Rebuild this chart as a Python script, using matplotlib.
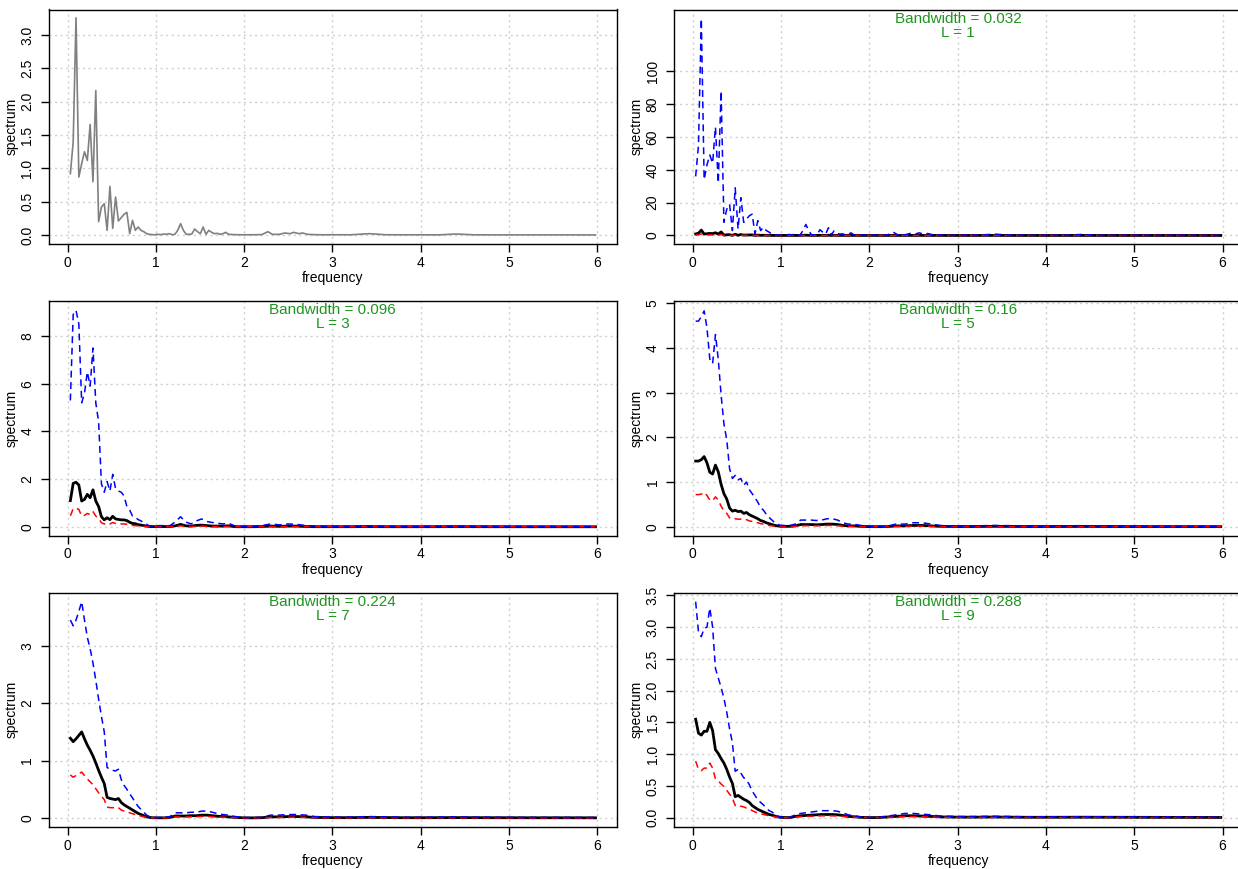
import numpy as np
import matplotlib
matplotlib.use('Agg')
import matplotlib.pyplot as plt

plt.rcParams['font.family'] = ['Liberation Sans', 'DejaVu Sans']

# raw periodogram grid (dense part every 0.032, sparse tail)
raw_freq = [0.032, 0.064, 0.096, 0.128, 0.16, 0.192, 0.224, 0.256, 0.288, 0.32,
            0.352, 0.384, 0.416, 0.448, 0.48, 0.512, 0.544, 0.576, 0.608, 0.64,
            0.672, 0.704, 0.736, 0.768, 0.8, 0.832, 0.864, 0.896, 0.928, 0.96,
            0.992, 1.024, 1.056, 1.088, 1.12, 1.152, 1.184, 1.216, 1.248, 1.28,
            1.312, 1.344, 1.376, 1.408, 1.44, 1.472, 1.504, 1.536, 1.568, 1.6,
            1.632, 1.664, 1.696, 1.728, 1.76, 1.792, 1.824,
            1.9, 2.0, 2.1, 2.2, 2.27, 2.32, 2.4, 2.46, 2.52, 2.56,
            2.62, 2.66, 2.72, 2.8, 2.9, 3.0, 3.2, 3.42, 3.6, 3.8,
            4.0, 4.2, 4.4, 4.6, 4.8, 5.0, 5.3, 5.6, 5.98]

raw_spec = [0.92, 1.40, 3.26, 0.87, 1.07, 1.25, 1.12, 1.66, 0.80, 2.17,
            0.20, 0.42, 0.47, 0.07, 0.73, 0.10, 0.57, 0.21, 0.26, 0.31,
            0.34, 0.02, 0.22, 0.07, 0.12, 0.07, 0.05, 0.02, 0.01, 0.005,
            0.004, 0.01, 0.005, 0.015, 0.01, 0.02, 0.005, 0.01, 0.07, 0.17,
            0.07, 0.01, 0.01, 0.015, 0.09, 0.05, 0.02, 0.12, 0.01, 0.07,
            0.04, 0.02, 0.025, 0.01, 0.02, 0.04, 0.01,
            0.005, 0.003, 0.004, 0.006, 0.05, 0.01, 0.01, 0.03, 0.02, 0.04,
            0.02, 0.03, 0.01, 0.005, 0.003, 0.004, 0.003, 0.02, 0.004, 0.003,
            0.003, 0.002, 0.015, 0.003, 0.002, 0.002, 0.002, 0.002, 0.001]

l1_upper = [36, 55, 132, 34, 43, 49, 44, 66, 32, 88,
            8, 16, 19, 3, 29, 4, 23, 8, 10, 12,
            13, 1, 9, 3, 5, 3, 2, 0.8, 0.4, 0.2,
            0.2, 0.4, 0.2, 0.6, 0.4, 0.8, 0.2, 0.4, 3, 6.7,
            3, 0.4, 0.4, 0.6, 3.5, 2, 0.8, 4.7, 0.4, 2.8,
            1.6, 0.8, 1, 0.4, 0.8, 1.6, 0.4,
            0.2, 0.1, 0.2, 0.2, 2, 0.4, 0.4, 1.2, 0.8, 1.6,
            0.8, 1.2, 0.4, 0.2, 0.1, 0.2, 0.1, 0.8, 0.2, 0.1,
            0.1, 0.1, 0.6, 0.1, 0.1, 0.1, 0.1, 0.1, 0.05]

l1_lower = [0.25, 0.38, 0.88, 0.24, 0.29, 0.34, 0.30, 0.45, 0.22, 0.59,
            0.05, 0.11, 0.13, 0.02, 0.2, 0.03, 0.15, 0.06, 0.07, 0.08,
            0.09, 0.01, 0.06, 0.02, 0.03, 0.02, 0.01, 0.005, 0.003, 0.001,
            0.001, 0.003, 0.001, 0.004, 0.003, 0.005, 0.001, 0.003, 0.02, 0.05,
            0.02, 0.003, 0.003, 0.004, 0.02, 0.01, 0.005, 0.03, 0.003, 0.02,
            0.01, 0.005, 0.007, 0.003, 0.005, 0.01, 0.003,
            0.001, 0.001, 0.001, 0.002, 0.01, 0.003, 0.003, 0.008, 0.005, 0.01,
            0.005, 0.008, 0.003, 0.001, 0.001, 0.001, 0.001, 0.005, 0.001, 0.001,
            0.001, 0.001, 0.004, 0.001, 0.001, 0.001, 0.001, 0.001, 0.0003]

# grid for the smoothed estimates
smooth_freq = [0.032, 0.064, 0.096, 0.128, 0.16, 0.192, 0.224, 0.256, 0.288, 0.32,
               0.352, 0.384, 0.416, 0.448, 0.48, 0.512, 0.544, 0.576, 0.608, 0.64,
               0.672, 0.704, 0.736, 0.768, 0.8, 0.832, 0.864, 0.896, 0.928, 0.96,
               0.992,
               1.04, 1.1, 1.16, 1.22, 1.28, 1.34, 1.4, 1.46, 1.52, 1.58,
               1.64, 1.7, 1.76, 1.82, 1.9, 2.0, 2.1, 2.2, 2.3, 2.4,
               2.5, 2.6, 2.7, 2.8, 3.0, 3.2, 3.4, 3.6, 3.8, 4.0,
               4.4, 4.8, 5.2, 5.6, 5.98]

l3_spec = [1.10, 1.82, 1.87, 1.75, 1.08, 1.15, 1.36, 1.22, 1.55, 1.08,
           0.85, 0.42, 0.29, 0.38, 0.30, 0.44, 0.33, 0.31, 0.29, 0.29,
           0.26, 0.19, 0.14, 0.13, 0.09, 0.07, 0.05, 0.03, 0.01, 0.01,
           0.005,
           0.01, 0.01, 0.01, 0.04, 0.10, 0.04, 0.03, 0.06, 0.07, 0.05,
           0.03, 0.03, 0.03, 0.04, 0.005, 0.003, 0.004, 0.01, 0.03, 0.02,
           0.03, 0.03, 0.01, 0.005, 0.005, 0.005, 0.01, 0.005, 0.004, 0.004,
           0.008, 0.004, 0.003, 0.003, 0.002]
l3_upper = [5.3, 8.9, 9.08, 8.5, 5.2, 5.6, 6.5, 5.9, 7.5, 5.2,
            4.4, 1.8, 1.45, 1.9, 1.5, 2.2, 1.6, 1.5, 1.45, 1.3,
            0.85, 0.7, 0.45, 0.4, 0.3, 0.25, 0.15, 0.1, 0.04, 0.03,
            0.02,
            0.05, 0.05, 0.05, 0.2, 0.42, 0.2, 0.12, 0.25, 0.33, 0.22,
            0.18, 0.15, 0.12, 0.15, 0.03, 0.02, 0.02, 0.05, 0.12, 0.08,
            0.12, 0.1, 0.05, 0.03, 0.02, 0.02, 0.04, 0.02, 0.02, 0.02,
            0.03, 0.02, 0.01, 0.01, 0.01]
l3_lower = [0.46, 0.76, 0.78, 0.73, 0.45, 0.48, 0.56, 0.51, 0.64, 0.45,
            0.35, 0.17, 0.12, 0.16, 0.12, 0.18, 0.14, 0.13, 0.12, 0.12,
            0.11, 0.08, 0.06, 0.05, 0.04, 0.03, 0.02, 0.01, 0.004, 0.004,
            0.002,
            0.004, 0.004, 0.004, 0.017, 0.04, 0.017, 0.012, 0.025, 0.03, 0.02,
            0.012, 0.012, 0.012, 0.017, 0.002, 0.001, 0.002, 0.004, 0.012, 0.008,
            0.012, 0.012, 0.004, 0.002, 0.002, 0.002, 0.004, 0.002, 0.002, 0.002,
            0.003, 0.002, 0.001, 0.001, 0.001]

l5_spec = [1.47, 1.47, 1.50, 1.57, 1.43, 1.22, 1.18, 1.38, 1.23, 0.95,
           0.74, 0.62, 0.42, 0.35, 0.37, 0.34, 0.35, 0.30, 0.32, 0.27,
           0.24, 0.21, 0.18, 0.14, 0.12, 0.09, 0.07, 0.05, 0.03, 0.02,
           0.01,
           0.01, 0.01, 0.02, 0.05, 0.05, 0.05, 0.045, 0.05, 0.06, 0.06,
           0.05, 0.03, 0.02, 0.02, 0.01, 0.003, 0.003, 0.004, 0.02, 0.02,
           0.03, 0.03, 0.02, 0.01, 0.005, 0.006, 0.01, 0.008, 0.005, 0.005,
           0.008, 0.005, 0.004, 0.004, 0.003]
l5_upper = [4.6, 4.6, 4.7, 4.83, 4.45, 3.75, 3.65, 4.3, 3.75, 2.95,
            2.3, 1.95, 1.3, 1.08, 1.15, 1.05, 1.08, 0.93, 1.0, 0.83,
            0.74, 0.65, 0.55, 0.43, 0.37, 0.28, 0.21, 0.15, 0.09, 0.06,
            0.03,
            0.03, 0.03, 0.06, 0.15, 0.15, 0.15, 0.14, 0.15, 0.18, 0.18,
            0.15, 0.09, 0.06, 0.06, 0.03, 0.01, 0.01, 0.012, 0.06, 0.06,
            0.09, 0.09, 0.06, 0.03, 0.015, 0.02, 0.03, 0.025, 0.015, 0.015,
            0.025, 0.015, 0.012, 0.012, 0.01]
l5_lower = [0.72, 0.72, 0.73, 0.77, 0.70, 0.60, 0.58, 0.67, 0.60, 0.46,
            0.36, 0.30, 0.2, 0.17, 0.18, 0.17, 0.17, 0.15, 0.16, 0.13,
            0.12, 0.10, 0.09, 0.07, 0.06, 0.04, 0.03, 0.02, 0.015, 0.01,
            0.005,
            0.005, 0.005, 0.01, 0.024, 0.024, 0.024, 0.022, 0.024, 0.03, 0.03,
            0.024, 0.015, 0.01, 0.01, 0.005, 0.0015, 0.0015, 0.002, 0.01, 0.01,
            0.015, 0.015, 0.01, 0.005, 0.0025, 0.003, 0.005, 0.004, 0.0025, 0.0025,
            0.004, 0.0025, 0.002, 0.002, 0.0015]

l7_spec = [1.39, 1.33, 1.38, 1.44, 1.50, 1.38, 1.27, 1.18, 1.08, 0.96,
           0.83, 0.71, 0.60, 0.36, 0.34, 0.33, 0.32, 0.34, 0.27, 0.23,
           0.20, 0.17, 0.14, 0.11, 0.08, 0.06, 0.04, 0.02, 0.01, 0.005,
           0.003,
           0.003, 0.003, 0.01, 0.035, 0.035, 0.035, 0.04, 0.04, 0.05, 0.05,
           0.04, 0.03, 0.025, 0.02, 0.01, 0.003, 0.002, 0.005, 0.02, 0.02,
           0.025, 0.025, 0.02, 0.01, 0.006, 0.006, 0.01, 0.008, 0.005, 0.005,
           0.007, 0.005, 0.004, 0.004, 0.003]
l7_upper = [3.45, 3.35, 3.45, 3.6, 3.77, 3.45, 3.15, 2.95, 2.7, 2.4,
            2.07, 1.77, 1.5, 0.88, 0.85, 0.83, 0.82, 0.85, 0.67, 0.57,
            0.5, 0.42, 0.35, 0.27, 0.2, 0.15, 0.1, 0.05, 0.025, 0.012,
            0.008,
            0.008, 0.008, 0.025, 0.09, 0.09, 0.09, 0.1, 0.1, 0.12, 0.12,
            0.1, 0.075, 0.06, 0.05, 0.025, 0.008, 0.005, 0.012, 0.05, 0.05,
            0.06, 0.06, 0.05, 0.025, 0.015, 0.015, 0.025, 0.02, 0.012, 0.012,
            0.018, 0.012, 0.01, 0.01, 0.008]
l7_lower = [0.75, 0.71, 0.74, 0.77, 0.80, 0.74, 0.68, 0.63, 0.58, 0.51,
            0.44, 0.38, 0.32, 0.19, 0.18, 0.18, 0.17, 0.18, 0.14, 0.12,
            0.11, 0.09, 0.075, 0.06, 0.043, 0.032, 0.02, 0.01, 0.005, 0.003,
            0.002,
            0.002, 0.002, 0.005, 0.019, 0.019, 0.019, 0.021, 0.021, 0.027, 0.027,
            0.021, 0.016, 0.013, 0.011, 0.005, 0.002, 0.001, 0.003, 0.011, 0.011,
            0.013, 0.013, 0.011, 0.005, 0.003, 0.003, 0.005, 0.004, 0.003, 0.003,
            0.004, 0.003, 0.002, 0.002, 0.002]

l9_spec = [1.55, 1.33, 1.30, 1.36, 1.36, 1.50, 1.37, 1.07, 1.01, 0.93,
           0.86, 0.76, 0.64, 0.54, 0.33, 0.35, 0.32, 0.29, 0.27, 0.24,
           0.19, 0.16, 0.13, 0.11, 0.09, 0.07, 0.05, 0.04, 0.025, 0.012,
           0.005,
           0.003, 0.002, 0.02, 0.03, 0.035, 0.04, 0.045, 0.05, 0.05, 0.05,
           0.045, 0.035, 0.02, 0.015, 0.005, 0.001, 0.002, 0.01, 0.02, 0.03,
           0.03, 0.025, 0.02, 0.012, 0.008, 0.008, 0.01, 0.008, 0.006, 0.006,
           0.007, 0.006, 0.005, 0.004, 0.003]
l9_upper = [3.4, 2.92, 2.85, 2.98, 3.0, 3.3, 3.0, 2.35, 2.2, 2.05,
            1.88, 1.66, 1.4, 1.18, 0.73, 0.76, 0.7, 0.63, 0.59, 0.52,
            0.42, 0.35, 0.28, 0.24, 0.2, 0.15, 0.11, 0.09, 0.055, 0.026,
            0.011,
            0.007, 0.004, 0.044, 0.066, 0.077, 0.088, 0.1, 0.11, 0.11, 0.11,
            0.1, 0.077, 0.044, 0.033, 0.011, 0.002, 0.004, 0.022, 0.044, 0.066,
            0.066, 0.055, 0.044, 0.026, 0.018, 0.018, 0.022, 0.018, 0.013, 0.013,
            0.015, 0.013, 0.011, 0.009, 0.007]
l9_lower = [0.89, 0.76, 0.74, 0.78, 0.78, 0.86, 0.78, 0.61, 0.58, 0.53,
            0.49, 0.43, 0.37, 0.31, 0.19, 0.2, 0.18, 0.17, 0.15, 0.14,
            0.11, 0.09, 0.074, 0.063, 0.051, 0.04, 0.029, 0.023, 0.014, 0.007,
            0.003,
            0.002, 0.001, 0.011, 0.017, 0.02, 0.023, 0.026, 0.029, 0.029, 0.029,
            0.026, 0.02, 0.011, 0.009, 0.003, 0.001, 0.001, 0.006, 0.011, 0.017,
            0.017, 0.014, 0.011, 0.007, 0.005, 0.005, 0.006, 0.005, 0.003, 0.003,
            0.004, 0.003, 0.003, 0.002, 0.002]

bandwidths = ['0.032', '0.096', '0.16', '0.224', '0.288']
spans = [1, 3, 5, 7, 9]

x_ticks = [0, 1, 2, 3, 4, 5, 6]
GREEN = '#1e961e'


def setup_axes(ax, ylim, yticks, ylabels):
    """R-like axes: box, outward ticks, dotted grid, rotated y labels."""
    ax.set_xlim(-0.21, 6.22)
    ax.set_ylim(*ylim)
    ax.set_xticks(x_ticks)
    ax.set_yticks(yticks)
    ax.set_yticklabels(ylabels, rotation=90, va='center')
    ax.tick_params(direction='out', length=5.5, width=1, labelsize=10, pad=3)
    ax.tick_params(axis='y', pad=5)
    ax.grid(True, color='#cfcfcf', linestyle=(0, (1.5, 2.5)), linewidth=1)
    ax.set_axisbelow(True)
    for sp in ax.spines.values():
        sp.set_linewidth(1)
    ax.set_xlabel('frequency', fontsize=10, labelpad=1)
    ax.set_ylabel('spectrum', fontsize=10, labelpad=1.5)


def plot_smoothed(ax, freq, est, lower, upper, bw, L):
    ax.plot(freq, est, color='black', lw=2, zorder=3)
    ax.plot(freq, lower, color='red', lw=1.1, dashes=(4.5, 3), zorder=4)
    ax.plot(freq, upper, color='blue', lw=1.1, dashes=(4.5, 3), zorder=5)
    ax.text(0.5, 0.99, f'Bandwidth = {bw}\nL = {L}', transform=ax.transAxes,
            ha='center', va='top', color=GREEN, fontsize=11, linespacing=1.0)


fig = plt.figure(figsize=(12.38, 8.69), dpi=100)
W = 567.7 / 1238
H = 234.5 / 869
lefts = [49 / 1238, 674.3 / 1238]
bottoms = [1 - 244 / 869, 1 - 535.5 / 869, 1 - 827 / 869]

axes = [[fig.add_axes([lefts[c], bottoms[r], W, H]) for c in range(2)] for r in range(3)]

# raw periodogram
ax = axes[0][0]
ax.plot(raw_freq, raw_spec, color='#808080', lw=1.2)
setup_axes(ax, (-0.135, 3.385), [0, 0.5, 1, 1.5, 2, 2.5, 3],
           ['0.0', '0.5', '1.0', '1.5', '2.0', '2.5', '3.0'])

# L = 1
ax = axes[0][1]
plot_smoothed(ax, raw_freq, raw_spec, l1_lower, l1_upper, bandwidths[0], spans[0])
setup_axes(ax, (-5.2, 137.6), [0, 20, 40, 60, 80, 100],
           ['0', '20', '40', '60', '80', '100'])

# L = 3
ax = axes[1][0]
plot_smoothed(ax, smooth_freq, l3_spec, l3_lower, l3_upper, bandwidths[1], spans[1])
setup_axes(ax, (-0.365, 9.47), [0, 2, 4, 6, 8], ['0', '2', '4', '6', '8'])

# L = 5
ax = axes[1][1]
plot_smoothed(ax, smooth_freq, l5_spec, l5_lower, l5_upper, bandwidths[2], spans[2])
setup_axes(ax, (-0.195, 5.05), [0, 1, 2, 3, 4, 5], ['0', '1', '2', '3', '4', '5'])

# L = 7
ax = axes[2][0]
plot_smoothed(ax, smooth_freq, l7_spec, l7_lower, l7_upper, bandwidths[3], spans[3])
setup_axes(ax, (-0.157, 3.93), [0, 1, 2, 3], ['0', '1', '2', '3'])

# L = 9
ax = axes[2][1]
plot_smoothed(ax, smooth_freq, l9_spec, l9_lower, l9_upper, bandwidths[4], spans[4])
setup_axes(ax, (-0.147, 3.545), [0, 0.5, 1, 1.5, 2, 2.5, 3, 3.5],
           ['0.0', '0.5', '1.0', '1.5', '2.0', '2.5', '3.0', '3.5'])

fig.savefig('out.png', dpi=100)
